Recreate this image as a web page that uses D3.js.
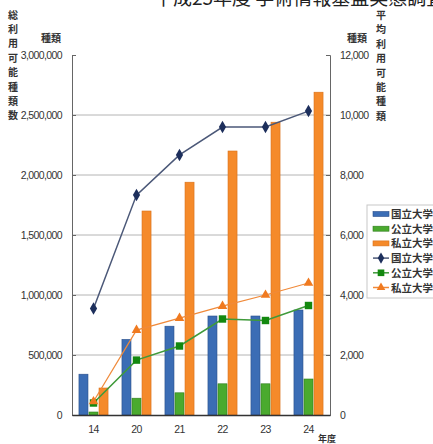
<!DOCTYPE html>
<html>
<head>
<meta charset="utf-8">
<script src="https://cdn.jsdelivr.net/npm/d3@7"></script>
<style>
  body { margin: 0; background: #fff; }
  svg text { font-family: "Liberation Sans", sans-serif; fill: #333; }
  .jp { font-family: "Noto Sans CJK JP", sans-serif !important; font-weight: bold; }
</style>
</head>
<body>
<svg id="chart" width="433" height="444"></svg>
<script>
// data
let years = ["14", "20", "21", "22", "23", "24"];
let seriesNames = ["国立大学", "公立大学", "私立大学"];
let barKokuritsu = [340000, 630000, 740000, 825000, 825000, 875000];
let barKouritsu = [25000, 140000, 185000, 260000, 260000, 300000];
let barShiritsu = [225000, 1700000, 1940000, 2200000, 2440000, 2690000];
let lineKokuritsu = [3550, 7330, 8670, 9600, 9600, 10130];
let lineKouritsu = [400, 1830, 2300, 3200, 3150, 3650];
let lineShiritsu = [450, 2830, 3230, 3630, 4000, 4400];
let leftTicks = [0, 500000, 1000000, 1500000, 2000000, 2500000, 3000000];
let rightTicks = [0, 2000, 4000, 6000, 8000, 10000, 12000];

var svg = d3.select("#chart");
var plotLeft = 72, plotRight = 330, plotTop = 55, plotBottom = 415;

var barColors = ["#3b6db5", "#4aaa2e", "#f58a2a"];
var barStroke = ["#2a4f8a", "#2f7d1c", "#d8701a"];
var lineColors = ["#4b5878", "#3f9a3a", "#f08a3a"];
var markFill = ["#1d2f5c", "#13880f", "#f07a20"];

var x = d3.scaleBand().domain(years).range([plotLeft, plotRight]).paddingInner(0.3).paddingOuter(0.15);
var xs = d3.scaleBand().domain(seriesNames).range([0, x.bandwidth()]);
var yL = d3.scaleLinear().domain([0, 3000000]).range([plotBottom, plotTop]);
var yR = d3.scaleLinear().domain([0, 12000]).range([plotBottom, plotTop]);

// title (cut off at the top)
svg.append("text").attr("class", "jp").attr("x", 154).attr("y", 5)
    .style("font-size", "19px").style("font-weight", "normal").style("fill", "#222")
    .text("平成25年度 学術情報基盤実態調査");

// gridlines
svg.append("g").selectAll("line")
    .data(leftTicks.filter(function(d) { return d > 0 && d < 3000000; }))
    .enter().append("line")
    .attr("x1", plotLeft).attr("x2", plotRight)
    .attr("y1", function(d) { return yL(d); }).attr("y2", function(d) { return yL(d); })
    .attr("stroke", "#b4b4b4").attr("stroke-width", 1);

// left axis
var axL = svg.append("g").attr("transform", "translate(" + plotLeft + ",0)")
    .call(d3.axisLeft(yL).tickValues(leftTicks).tickSize(-4).tickPadding(10).tickFormat(d3.format(",")));
axL.select(".domain").attr("stroke", "#666");
axL.selectAll(".tick line").attr("stroke", "#666");
axL.selectAll("text").style("font-size", "10.5px").style("letter-spacing", "-0.6px").style("fill", "#333");

// right axis
var axR = svg.append("g").attr("transform", "translate(" + plotRight + ",0)")
    .call(d3.axisRight(yR).tickValues(rightTicks).tickSize(-4).tickPadding(10).tickFormat(d3.format(",")));
axR.select(".domain").attr("stroke", "#666");
axR.selectAll(".tick line").attr("stroke", "#666");
axR.selectAll("text").style("font-size", "10.5px").style("letter-spacing", "-0.6px").style("fill", "#333");

// bars
var barData = [barKokuritsu, barKouritsu, barShiritsu];
barData.forEach(function(vals, s) {
    svg.append("g").selectAll("rect")
        .data(vals)
        .enter().append("rect")
        .attr("x", function(d, i) { return x(years[i]) + xs(seriesNames[s]) + 0.5; })
        .attr("width", xs.bandwidth() - 1)
        .attr("y", function(d) { return yL(d); })
        .attr("height", function(d) { return plotBottom - yL(d); })
        .attr("fill", barColors[s])
        .attr("stroke", barStroke[s]).attr("stroke-width", 0.6);
});

// bottom axis
var axB = svg.append("g").attr("transform", "translate(0," + plotBottom + ")")
    .call(d3.axisBottom(x).tickSize(0).tickPadding(11));
axB.select(".domain").attr("stroke", "#333").attr("stroke-width", 1.5);
axB.selectAll("text").style("font-size", "10.5px").style("letter-spacing", "-0.5px").style("fill", "#333");

// lines
var lineData = [lineKokuritsu, lineKouritsu, lineShiritsu];
var cx = function(i) { return x(years[i]) + x.bandwidth() / 2; };
var symbols = [d3.symbolDiamond, d3.symbolSquare, d3.symbolTriangle];
var symSize = [45, 55, 40];
lineData.forEach(function(vals, s) {
    var line = d3.line()
        .x(function(d, i) { return cx(i); })
        .y(function(d) { return yR(d); });
    svg.append("path").datum(vals)
        .attr("d", line).attr("fill", "none")
        .attr("stroke", lineColors[s]).attr("stroke-width", s == 2 ? 1.2 : 1.5);
    svg.append("g").selectAll("path")
        .data(vals)
        .enter().append("path")
        .attr("transform", function(d, i) { return "translate(" + cx(i) + "," + yR(d) + ")"; })
        .attr("d", d3.symbol().type(symbols[s]).size(symSize[s]))
        .attr("fill", markFill[s]);
});

// axis titles
var leftTitle = "総利用可能種類数".split("");
svg.append("g").selectAll("text").data(leftTitle).enter().append("text")
    .attr("class", "jp").attr("x", 13).attr("y", function(d, i) { return 18.5 + i * 14.4; })
    .attr("text-anchor", "middle").style("font-size", "10px").text(function(d) { return d; });
var rightTitle = "平均利用可能種類".split("");
svg.append("g").selectAll("text").data(rightTitle).enter().append("text")
    .attr("class", "jp").attr("x", 381).attr("y", function(d, i) { return 19 + i * 14.4; })
    .attr("text-anchor", "middle").style("font-size", "10px").text(function(d) { return d; });
svg.append("text").attr("class", "jp").attr("x", 51).attr("y", 42)
    .attr("text-anchor", "middle").style("font-size", "10px").text("種類");
svg.append("text").attr("class", "jp").attr("x", 357).attr("y", 42)
    .attr("text-anchor", "middle").style("font-size", "10px").text("種類");
svg.append("text").attr("class", "jp").attr("x", 327).attr("y", 442)
    .attr("text-anchor", "middle").style("font-size", "9px").text("年度");

// legend
var lg = svg.append("g").attr("transform", "translate(367,205)");
lg.append("rect").attr("x", 0).attr("y", 0).attr("width", 70).attr("height", 93)
    .attr("fill", "#fff").attr("stroke", "#c8c8c8");
var legendRows = [0, 1, 2, 3, 4, 5];
legendRows.forEach(function(r) {
    var s = r % 3, yy = 9 + r * 14.7;
    var row = lg.append("g").attr("transform", "translate(0," + yy + ")");
    if (r < 3) {
        row.append("rect").attr("x", 6).attr("y", -2.5).attr("width", 16).attr("height", 5)
            .attr("fill", barColors[s]).attr("stroke", barStroke[s]).attr("stroke-width", 0.6);
    } else {
        row.append("line").attr("x1", 6).attr("x2", 22).attr("y1", 0).attr("y2", 0)
            .attr("stroke", lineColors[s]).attr("stroke-width", 1.5);
        row.append("path").attr("transform", "translate(14,0)")
            .attr("d", d3.symbol().type(symbols[s]).size(symSize[s] * 0.8))
            .attr("fill", markFill[s]);
    }
    row.append("text").attr("class", "jp").attr("x", 24).attr("y", 4)
        .style("font-size", "10.5px").text(seriesNames[s]);
});
</script>
</body>
</html>
